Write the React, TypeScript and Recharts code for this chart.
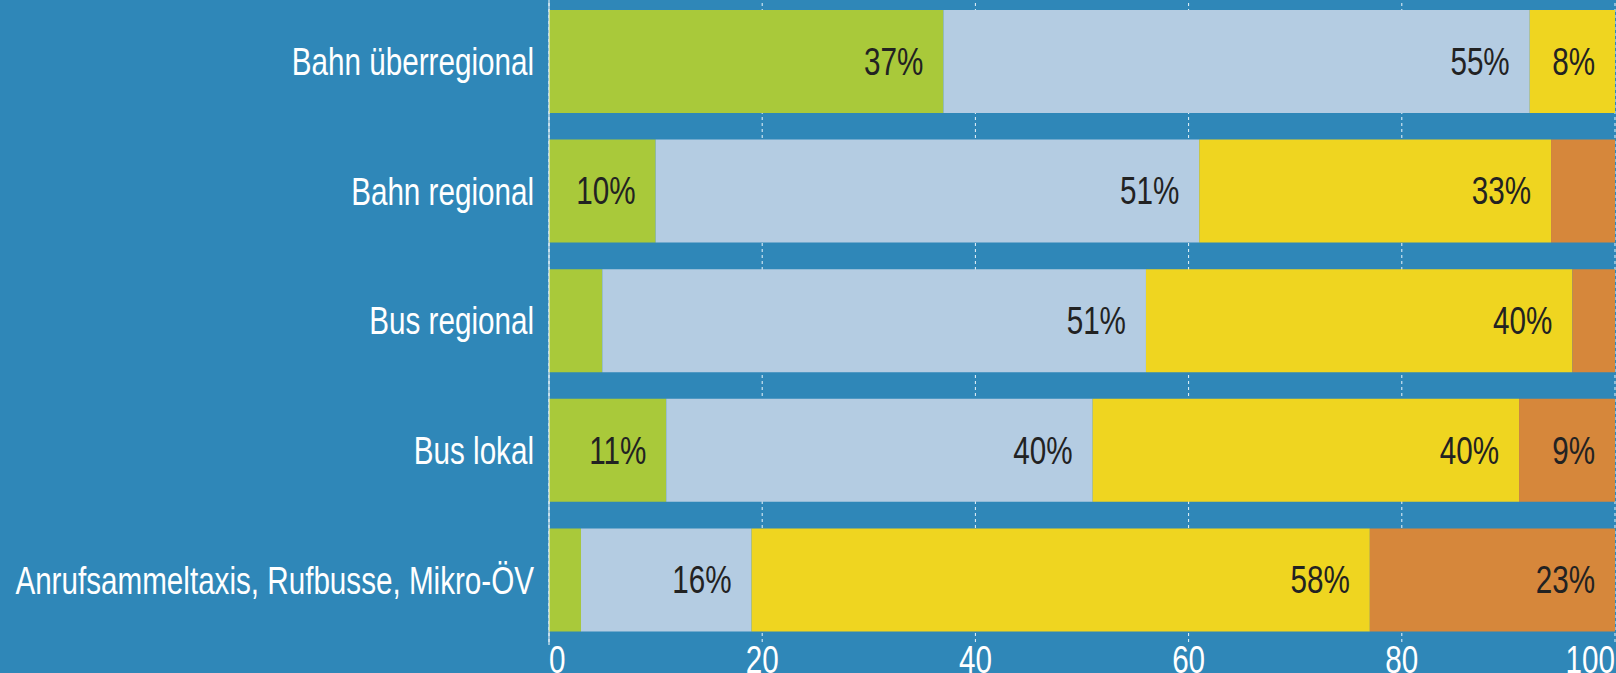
import React from 'react';
import { BarChart, Bar, XAxis, YAxis, CartesianGrid, LabelList } from 'recharts';

const FONT = '"Liberation Sans", Arial, sans-serif';
const SQUEEZE = 0.78; // condensed look
const FONT_SIZE = 38;

// Anteile in %, je Verkehrsangebot
const categories = [
  'Bahn überregional',
  'Bahn regional',
  'Bus regional',
  'Bus lokal',
  'Anrufsammeltaxis, Rufbusse, Mikro-ÖV',
];
const greenValues = [37, 10, 5, 11, 3];
const lightBlueValues = [55, 51, 51, 40, 16];
const yellowValues = [8, 33, 40, 40, 58];
const orangeValues = [0, 6, 4, 9, 23];
const xTicks = [0, 20, 40, 60, 80, 100];

const COLORS = {
  bg: '#2f87b8',
  green: '#a9c93a',
  lightBlue: '#b4cce2',
  yellow: '#efd520',
  orange: '#d6873b',
};

const data = categories.map((name, i) => ({
  name,
  green: greenValues[i],
  lightBlue: lightBlueValues[i],
  yellow: yellowValues[i],
  orange: orangeValues[i],
}));

const CondText = ({ x, y, anchor, fill, baseline, children }: any) => (
  <text
    transform={`translate(${x},${y}) scale(${SQUEEZE},1)`}
    textAnchor={anchor}
    dominantBaseline={baseline}
    fill={fill}
    fontSize={FONT_SIZE}
    fontFamily={FONT}
  >
    {children}
  </text>
);

const YTick = ({ x, y, payload }: any) => (
  <CondText x={x} y={y} anchor="end" baseline="central" fill="#fff">
    {payload.value}
  </CondText>
);

const XTick = ({ x, y, payload, index }: any) => {
  const anchor = index === 0 ? 'start' : index === xTicks.length - 1 ? 'end' : 'middle';
  return (
    <CondText x={x} y={y + 28} anchor={anchor} fill="#fff">
      {payload.value}
    </CondText>
  );
};

// small segments get no label
const SegLabel = ({ x, y, width, height, value }: any) => {
  if (value < 8) return null;
  return (
    <CondText x={x + width - 20} y={y + height / 2} anchor="end" baseline="central" fill="#222">
      {`${value}%`}
    </CondText>
  );
};

export default function App() {
  return (
    <div style={{ position: 'absolute', left: 0, top: 0, width: 1616, height: 673, background: COLORS.bg, overflow: 'hidden' }}>
      <BarChart
        width={1616}
        height={673}
        data={data}
        layout="vertical"
        margin={{ top: -3, right: 1, bottom: 0, left: 0 }}
        barSize={103}
      >
        <CartesianGrid horizontal={false} stroke="#eaf5fb" strokeDasharray="3 3" />
        <XAxis
          type="number"
          domain={[0, 100]}
          ticks={xTicks}
          interval={0}
          height={28}
          axisLine={false}
          tickLine={false}
          tickSize={0}
          tickMargin={0}
          tick={<XTick />}
        />
        <Bar dataKey="green" stackId="a" fill={COLORS.green} isAnimationActive={false}>
          <LabelList dataKey="green" content={<SegLabel />} />
        </Bar>
        <Bar dataKey="lightBlue" stackId="a" fill={COLORS.lightBlue} isAnimationActive={false}>
          <LabelList dataKey="lightBlue" content={<SegLabel />} />
        </Bar>
        <Bar dataKey="yellow" stackId="a" fill={COLORS.yellow} isAnimationActive={false}>
          <LabelList dataKey="yellow" content={<SegLabel />} />
        </Bar>
        <Bar dataKey="orange" stackId="a" fill={COLORS.orange} isAnimationActive={false}>
          <LabelList dataKey="orange" content={<SegLabel />} />
        </Bar>
        <YAxis
          type="category"
          dataKey="name"
          width={549}
          axisLine={{ stroke: '#fff', strokeWidth: 1 }}
          tickLine={false}
          tickSize={0}
          tickMargin={15}
          tick={<YTick />}
        />
      </BarChart>
    </div>
  );
}
